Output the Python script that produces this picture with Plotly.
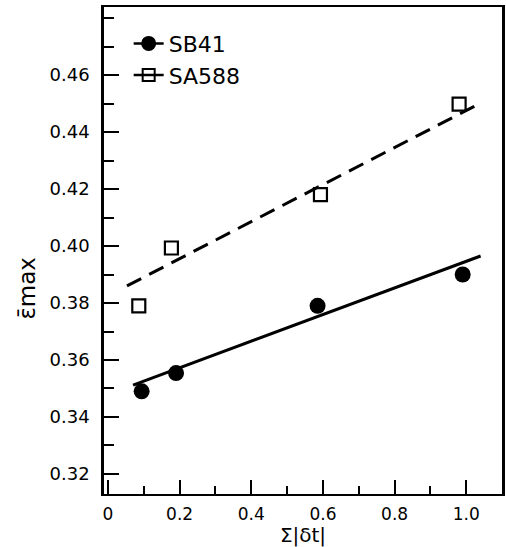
import plotly.graph_objects as go

# Data
sb41_x = [0.094, 0.19, 0.585, 0.99]
sb41_y = [0.349, 0.3554, 0.379, 0.390]
sa588_x = [0.086, 0.177, 0.593, 0.98]
sa588_y = [0.379, 0.3993, 0.418, 0.4498]

sb41_fit_x = [0.07, 1.04]
sb41_fit_y = [0.3512, 0.3965]
sa588_fit_x = [0.053, 1.03]
sa588_fit_y = [0.386, 0.4495]

x_tickvals = [0, 0.2, 0.4, 0.6, 0.8, 1.0]
x_ticktext = ["0", "0.2", "0.4", "0.6", "0.8", "1.0"]
y_tickvals = [0.32, 0.34, 0.36, 0.38, 0.40, 0.42, 0.44, 0.46]
y_ticktext = ["0.32", "0.34", "0.36", "0.38", "0.40", "0.42", "0.44", "0.46"]

FONT = "DejaVu Sans"
fig = go.Figure()

fig.add_trace(go.Scatter(x=sb41_fit_x, y=sb41_fit_y, mode="lines",
                         line=dict(color="black", width=3), showlegend=False))
fig.add_trace(go.Scatter(x=sa588_fit_x, y=sa588_fit_y, mode="lines",
                         line=dict(color="black", width=3, dash="16px,9px"), showlegend=False))
fig.add_trace(go.Scatter(x=sb41_x, y=sb41_y, mode="markers",
                         marker=dict(symbol="circle", size=16, color="black"), showlegend=False))
fig.add_trace(go.Scatter(x=sa588_x, y=sa588_y, mode="markers",
                         marker=dict(symbol="square-open", size=13, color="black",
                                     line=dict(width=2.2, color="black")), showlegend=False))
# legend entries
fig.add_trace(go.Scatter(x=[None], y=[None], mode="lines+markers", name="SB41",
                         line=dict(color="black", width=2.5),
                         marker=dict(symbol="circle", size=15, color="black")))
fig.add_trace(go.Scatter(x=[None], y=[None], mode="lines+markers", name="SA588",
                         line=dict(color="black", width=2.5),
                         marker=dict(symbol="square-open", size=12, color="black",
                                     line=dict(width=2, color="black"))))

fig.update_layout(
    width=506, height=547,
    margin=dict(l=104, r=1, t=7, b=53),
    paper_bgcolor="white", plot_bgcolor="white",
    font=dict(family=FONT, color="black"),
    showlegend=True,
    legend=dict(x=0.062, y=0.968, xanchor="left", yanchor="top",
                font=dict(size=22, family=FONT), bgcolor="rgba(0,0,0,0)",
                tracegroupgap=0),
    xaxis=dict(range=[-0.0111, 1.0997], showgrid=False, zeroline=False,
               showline=True, linecolor="black", linewidth=2, mirror=True,
               tickmode="array", tickvals=x_tickvals, ticktext=x_ticktext,
               ticks="inside", ticklen=14, tickwidth=2, tickcolor="black",
               tickfont=dict(size=17, family=FONT), ticklabelstandoff=4,
               minor=dict(dtick=0.1, tick0=0, ticks="inside", ticklen=8,
                          tickwidth=2, tickcolor="black"),
               title=dict(text="Σ|δt|", font=dict(size=20, family=FONT), standoff=3)),
    yaxis=dict(range=[0.31298, 0.48386], showgrid=False, zeroline=False,
               showline=True, linecolor="black", linewidth=2.5, mirror=True,
               tickmode="array", tickvals=y_tickvals, ticktext=y_ticktext,
               ticks="inside", ticklen=15, tickwidth=2, tickcolor="black",
               tickfont=dict(size=18, family=FONT), ticklabelstandoff=8,
               minor=dict(dtick=0.01, tick0=0.31, ticks="inside", ticklen=10,
                          tickwidth=2, tickcolor="black")),
)

fig.add_annotation(text="ε\u0304max", xref="paper", yref="paper",
                   x=(26 - 104) / 401, y=(494 - 288) / 487,
                   xanchor="center", yanchor="middle",
                   showarrow=False, textangle=-90,
                   font=dict(size=23, family=FONT))

fig.write_html("out.html",
               config={"displayModeBar": False},
               post_script="document.body.style.margin='0';document.body.style.padding='0';")
